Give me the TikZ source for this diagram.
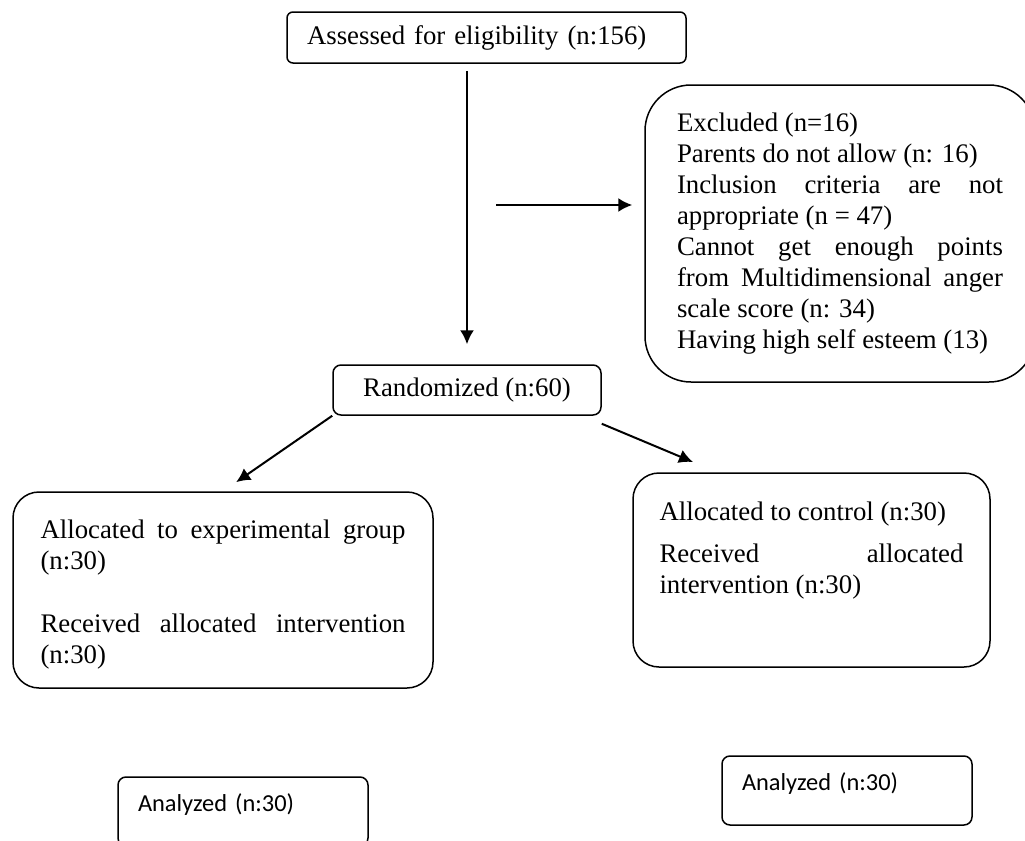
\documentclass[tikz,border=0pt]{standalone}
\usepackage{fontspec}
\setmainfont{Liberation Serif}
\newfontfamily\calibri{Carlito}
\usepackage{tikz}
\usetikzlibrary{arrows.meta}
\setlength{\parindent}{0pt}
\tolerance=10000
\hyphenpenalty=10000

\tikzset{
	box/.style={draw, line width=0.75pt, inner sep=0pt, font=\fontsize{13.4pt}{15.5pt}\selectfont},
	smallbox/.style={box, rounded corners=3pt},
	roundbox/.style={box, rounded corners=13pt, align=justify},
	analyzed/.style={draw, line width=0.75pt, inner sep=0pt, rounded corners=4pt, minimum width=125pt, minimum height=34.5pt, text width=105pt, align=left, text depth=9pt, font=\calibri\fontsize{12.2pt}{14pt}\selectfont},
	arr/.style={-{Latex[length=7pt,width=7pt]}, line width=1pt}
}

\begin{document}
\begin{tikzpicture}[x=0.5pt,y=-0.5pt]
	\useasboundingbox (0,0) rectangle (1025,841);
	\node[smallbox, minimum width=199.5pt, minimum height=25.5pt, text width=179.5pt, align=left] at (486.5,37.5) (assess) {Assessed for eligibility (n:156)};
	\node[smallbox, rounded corners=4pt, minimum width=134pt, minimum height=25pt] at (467,390) (rand) {Randomized (n:60)};
	\node[roundbox, rounded corners=23pt, minimum width=195pt, minimum height=148.5pt, text width=163pt] at (840,233.5) (excl) {Excluded (n=16)\\ Parents do not allow (n: 16)\\ Inclusion criteria are not\linebreak appropriate (n = 47)\\ Cannot get enough points\linebreak from Multidimensional anger\linebreak scale score (n: 34)\\ Having high self esteem (13)};
	\node[roundbox, minimum width=210pt, minimum height=98pt, text width=182.5pt, text depth=61pt] at (223,590) (expgroup) {Allocated to experimental group\linebreak (n:30)\\[16pt] Received allocated intervention\linebreak (n:30)};
	\node[roundbox, minimum width=178.5pt, minimum height=97pt, text width=152pt, text depth=58.5pt] at (811.5,570) (control) {Allocated to control (n:30)\\[5.5pt] Received allocated\linebreak intervention (n:30)};
	\node[analyzed] at (243,811.5) (anaexp) {Analyzed (n:30)};
	\node[analyzed] at (847,790.5) (anactrl) {Analyzed (n:30)};
	\coordinate (exstart) at (496,205);
	\coordinate (ctrlend) at (693,462);
	\path[arr] (assess.south -| rand.north) edge[shorten <=3.5pt, shorten >=10pt] (rand.north);
	\path[arr] (exstart) edge[shorten >=6pt] (excl.west |- exstart);
	\path[arr] (rand.south west) edge[shorten >=8pt] (expgroup.north);
	\path[arr] ([yshift=-4pt]rand.south east) edge (ctrlend);
\end{tikzpicture}
\end{document}
